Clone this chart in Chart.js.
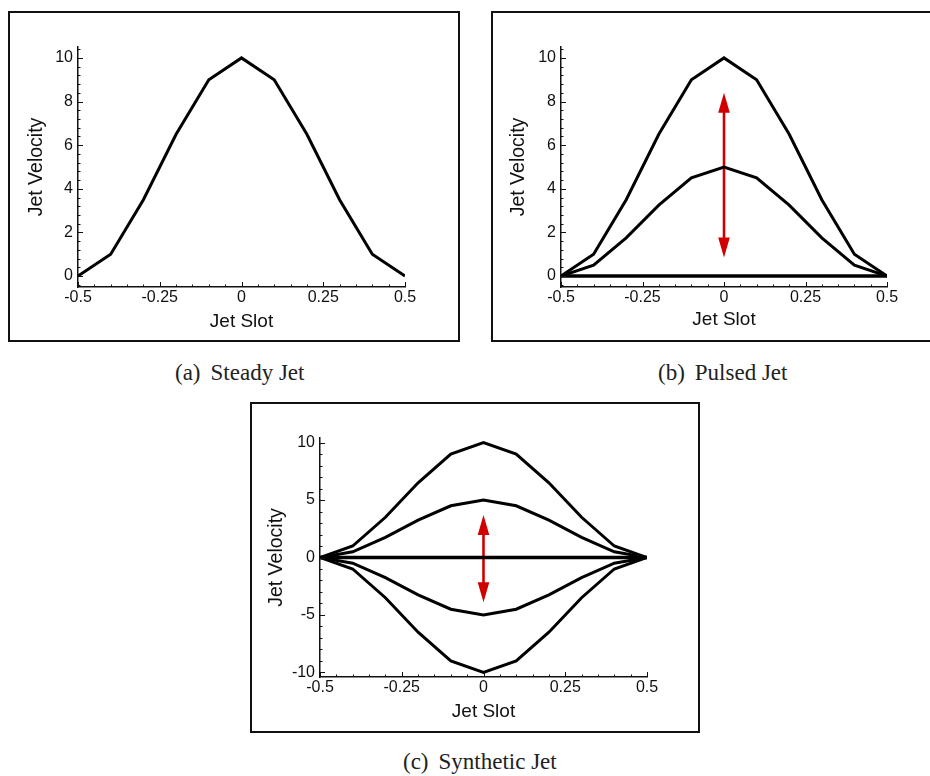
<!DOCTYPE html>
<html>
<head>
<meta charset="utf-8">
<title>Jet velocity profiles</title>
<script src="https://cdn.jsdelivr.net/npm/chart.js@4/dist/chart.umd.min.js"></script>
<style>
  html, body { margin: 0; padding: 0; background: #fff; }
  body { width: 930px; height: 776px; position: relative; overflow: hidden; }
  .panel { position: absolute; }
  .panel canvas { position: absolute; left: 0; top: 0; }
  .frame { position: absolute; left: 0; top: 0; right: 0; bottom: 0;
           border: 2px solid #111; box-sizing: border-box; pointer-events: none; }
  .cap { position: absolute; font-family: "Liberation Serif", "Times New Roman", serif;
         font-size: 23px; line-height: 22px; color: #222; white-space: pre; }
  .cap span { margin-left: 10px; }
</style>
</head>
<body>
<div class="panel" style="left:8px;top:11px;width:452px;height:331px">
  <canvas id="steady" width="452" height="331"></canvas><div class="frame"></div>
</div>
<div class="panel" style="left:491px;top:11px;width:452px;height:331px">
  <canvas id="pulsed" width="452" height="331"></canvas><div class="frame"></div>
</div>
<div class="panel" style="left:250px;top:402px;width:450px;height:331px">
  <canvas id="synthetic" width="450" height="331"></canvas><div class="frame"></div>
</div>
<div class="cap" style="left:175px;top:362px">(a)<span>Steady Jet</span></div>
<div class="cap" style="left:658px;top:362px">(b)<span>Pulsed Jet</span></div>
<div class="cap" style="left:403px;top:751px">(c)<span>Synthetic Jet</span></div>

<script>
// Slot positions and velocity profiles across the jet slot
const slotX          = [-0.5, -0.4, -0.3, -0.2, -0.1, 0, 0.1, 0.2, 0.3, 0.4, 0.5];
const fullProfile    = [0, 1, 3.5, 6.5, 9, 10, 9, 6.5, 3.5, 1, 0];
const halfProfile    = [0, 0.5, 1.75, 3.25, 4.5, 5, 4.5, 3.25, 1.75, 0.5, 0];
const zeroProfile    = [0, 0, 0, 0, 0, 0, 0, 0, 0, 0, 0];
const negHalfProfile = [0, -0.5, -1.75, -3.25, -4.5, -5, -4.5, -3.25, -1.75, -0.5, 0];
const negFullProfile = [0, -1, -3.5, -6.5, -9, -10, -9, -6.5, -3.5, -1, 0];

// Tick labels
const slotTicks     = [-0.5, -0.25, 0, 0.25, 0.5];
const velTicksPos   = [0, 2, 4, 6, 8, 10];
const velTicksSym   = [-10, -5, 0, 5, 10];

// Oscillation arrows at the slot centre: [upper tip, lower tip]
const pulsedArrow    = [8.4, 0.85];
const syntheticArrow = [3.7, -3.9];

const SANS = '"Liberation Sans", Arial, sans-serif';
const INK = '#111';

// Inward-pointing major and minor tick marks on both axes
const innerTicks = {
  id: 'innerTicks',
  afterDraw(chart, args, opts) {
    const ctx = chart.ctx, xs = chart.scales.x, ys = chart.scales.y, a = chart.chartArea;
    const isMajor = (list, v) => list.some(m => Math.abs(m - v) < 1e-6);
    ctx.save();
    ctx.strokeStyle = INK;
    ctx.lineWidth = 1;
    ctx.beginPath();
    const nx = Math.round((xs.max - xs.min) / opts.xMinor);
    for (let i = 0; i <= nx; i++) {
      const v = xs.min + i * opts.xMinor;
      const px = Math.round(xs.getPixelForValue(v)) + 0.5;
      const len = isMajor(opts.xMajor, v) ? 5 : 2.5;
      ctx.moveTo(px, a.bottom);
      ctx.lineTo(px, a.bottom - len);
    }
    const start = Math.ceil(ys.min / opts.yMinor - 1e-9);
    const end = Math.floor(ys.max / opts.yMinor + 1e-9);
    for (let k = start; k <= end; k++) {
      const v = k * opts.yMinor;
      const py = Math.round(ys.getPixelForValue(v)) + 0.5;
      const len = isMajor(opts.yMajor, v) ? 5 : 2.5;
      ctx.moveTo(a.left, py);
      ctx.lineTo(a.left + len, py);
    }
    ctx.stroke();
    ctx.restore();
  }
};

// Double-headed arrow drawn through the data scales
const swingArrow = {
  id: 'swingArrow',
  beforeDatasetsDraw(chart, args, opts) {
    if (!opts || !opts.ends) return;
    const ctx = chart.ctx, xs = chart.scales.x, ys = chart.scales.y;
    const x = xs.getPixelForValue(opts.at);
    const yTop = ys.getPixelForValue(opts.ends[0]);
    const yBot = ys.getPixelForValue(opts.ends[1]);
    const hl = 20, hw = 5.8;
    ctx.save();
    ctx.strokeStyle = opts.color;
    ctx.fillStyle = opts.color;
    ctx.lineWidth = 2.6;
    ctx.beginPath();
    ctx.moveTo(x, yTop + hl - 2);
    ctx.lineTo(x, yBot - hl + 2);
    ctx.stroke();
    ctx.beginPath();
    ctx.moveTo(x, yTop);
    ctx.lineTo(x + hw, yTop + hl);
    ctx.lineTo(x - hw, yTop + hl);
    ctx.closePath();
    ctx.fill();
    ctx.beginPath();
    ctx.moveTo(x, yBot);
    ctx.lineTo(x + hw, yBot - hl);
    ctx.lineTo(x - hw, yBot - hl);
    ctx.closePath();
    ctx.fill();
    ctx.restore();
  }
};

function profileSet(values, width) {
  return {
    data: slotX.map((x, i) => ({ x: x, y: values[i] })),
    showLine: true,
    borderColor: '#000',
    borderWidth: width || 3,
    pointRadius: 0,
    tension: 0,
    fill: false
  };
}

function makeChart(id, profiles, yRange, yTicks, yMinor, arrow, g) {
  return new Chart(document.getElementById(id), {
    type: 'scatter',
    data: { datasets: profiles },
    options: {
      responsive: false,
      animation: false,
      devicePixelRatio: 1,
      layout: { padding: { left: 0, top: g.top, right: g.right, bottom: 0 } },
      plugins: {
        legend: { display: false },
        tooltip: { enabled: false },
        innerTicks: { xMajor: slotTicks, xMinor: 0.05, yMajor: yTicks, yMinor: yMinor },
        swingArrow: arrow ? { at: 0, ends: arrow, color: '#d10000' } : {}
      },
      scales: {
        x: {
          type: 'linear',
          min: -0.5,
          max: 0.5,
          afterBuildTicks: s => { s.ticks = slotTicks.map(v => ({ value: v })); },
          afterFit: s => { s.height = g.xh; },
          grid: { display: false, drawTicks: false },
          border: { display: true, color: INK, width: 1.5 },
          ticks: { padding: 1, color: INK, autoSkip: false, maxRotation: 0,
                   font: { family: SANS, size: 16 }, callback: v => String(v) },
          title: { display: true, text: 'Jet Slot', color: INK,
                   font: { family: SANS, size: 19 }, padding: { top: 0, bottom: g.xtp } }
        },
        y: {
          type: 'linear',
          min: yRange[0],
          max: yRange[1],
          afterBuildTicks: s => { s.ticks = yTicks.map(v => ({ value: v })); },
          afterFit: s => { s.width = g.yw; },
          grid: { display: false, drawTicks: false },
          border: { display: true, color: INK, width: 1.5 },
          ticks: { padding: 5, color: INK, autoSkip: false,
                   font: { family: SANS, size: 16 }, callback: v => String(v) },
          title: { display: true, text: 'Jet Velocity', color: INK,
                   font: { family: SANS, size: 19.5 }, padding: { top: g.ytp, bottom: 0 } }
        }
      }
    },
    plugins: [innerTicks, swingArrow]
  });
}

makeChart('steady',
  [profileSet(fullProfile)],
  [-0.5, 10.5], velTicksPos, 0.4, null,
  { top: 36, right: 55, xh: 55, yw: 70, xtp: 8.6, ytp: 17.3 });

makeChart('pulsed',
  [profileSet(fullProfile), profileSet(halfProfile), profileSet(zeroProfile, 3.5)],
  [-0.5, 10.5], velTicksPos, 0.4, pulsedArrow,
  { top: 36, right: 56, xh: 55, yw: 70, xtp: 10.6, ytp: 16.3 });

makeChart('synthetic',
  [profileSet(fullProfile), profileSet(halfProfile), profileSet(zeroProfile, 3.5),
   profileSet(negHalfProfile), profileSet(negFullProfile)],
  [-10.4, 10.4], velTicksSym, 1, syntheticArrow,
  { top: 36, right: 53, xh: 56, yw: 70, xtp: 9.9, ytp: 15.3 });
</script>
</body>
</html>
